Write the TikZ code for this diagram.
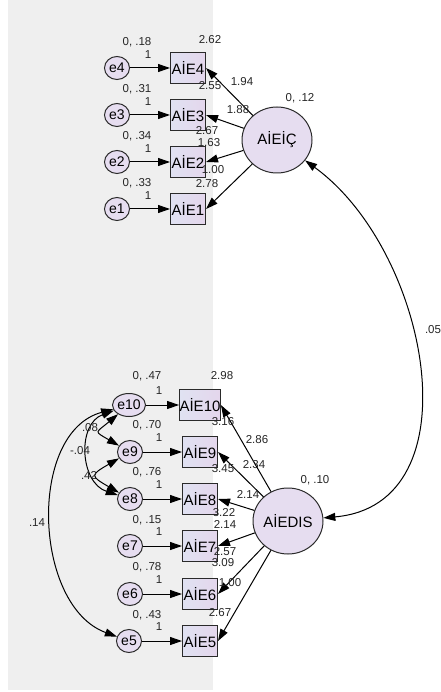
\documentclass[tikz,border=0pt]{standalone}
\usepackage{fontspec}
\setmainfont{Liberation Sans}
\usetikzlibrary{arrows.meta,shapes.geometric}
\definecolor{bgg}{HTML}{EFEFEF}
\definecolor{lav}{HTML}{E6DDF0}
\definecolor{boxl}{HTML}{E0E2F2}
\definecolor{boxr}{HTML}{E4D6EC}
\definecolor{edge}{HTML}{2A2A2A}
\tikzset{
  err/.style={ellipse, draw=edge, line width=1pt, fill=lav, minimum width=25pt, minimum height=23pt, inner sep=0pt, font=\fontsize{14}{15}\selectfont},
  obs/.style={rectangle, draw=edge, line width=1pt, left color=boxl, right color=boxr, minimum width=35pt, minimum height=31pt, inner sep=0pt, font=\fontsize{15}{16}\selectfont},
  lat/.style={ellipse, draw=edge, line width=1pt, fill=lav, minimum width=70pt, minimum height=66pt, inner sep=0pt, font=\fontsize{15}{16}\selectfont},
  lab/.style={font=\fontsize{11.5}{12}\selectfont, text=black!85, inner sep=0pt},
  arr/.style={-{Triangle[length=12pt,width=8pt]}, line width=1pt, draw=black},
  darr/.style={{Triangle[length=12pt,width=8pt]}-{Triangle[length=12pt,width=8pt]}, line width=1pt, draw=black}
}
\begin{document}
\begin{tikzpicture}[x=1pt,y=1pt]
\useasboundingbox (0,0) rectangle (440,-692);
\fill[white] (0,0) rectangle (440,-692);
\fill[bgg] (8,0) rectangle (213,-690);

% top group
\node[err] (e4) at (117,-68) {e4};
\node[err] (e3) at (117,-115) {e3};
\node[err] (e2) at (117,-162) {e2};
\node[err] (e1) at (117,-209) {e1};
\node[obs] (A4) at (188,-68) {AİE4};
\node[obs] (A3) at (188,-115) {AİE3};
\node[obs] (A2) at (188,-162) {AİE2};
\node[obs] (A1) at (188,-209) {AİE1};
\node[lat] (IC) at (277,-140) {AİEİÇ};

% bottom group
\node[err] (e10) at (129,-405) {e10};
\node[err] (e9) at (130,-452) {e9};
\node[err] (e8) at (130,-499) {e8};
\node[err] (e7) at (130,-546) {e7};
\node[err] (e6) at (130,-594) {e6};
\node[err] (e5) at (129,-641) {e5};
\node[obs] (A10) at (200,-405) {AİE10};
\node[obs] (A9) at (200,-452) {AİE9};
\node[obs] (A8) at (200,-499) {AİE8};
\node[obs] (A7) at (200,-546) {AİE7};
\node[obs] (A6) at (200,-594) {AİE6};
\node[obs] (A5) at (200,-641) {AİE5};
\node[lat] (DIS) at (288,-521) {AİEDIS};

% error arrows
\foreach \a/\b in {e4/A4,e3/A3,e2/A2,e1/A1,e10/A10,e9/A9,e8/A8,e7/A7,e6/A6,e5/A5}
  \draw[arr] (\a) -- (\b);

% loadings
\foreach \b in {A4,A3,A2,A1}
  \draw[arr] (IC) -- (\b.east);
\foreach \b in {A10,A9,A8,A7,A6,A5}
  \draw[arr] (DIS) -- (\b.east);

% covariances
\draw[darr] (IC) to[out=-36, in=5, looseness=1.1] (DIS);
\draw[darr] (e10) to[out=195, in=160, looseness=1.0] (e5);
\draw[darr] (e10) to[out=220, in=150, looseness=2.4] (e9);
\draw[darr] (e10) to[out=200, in=162, looseness=1.2] (e8);
\draw[darr] (e9) to[out=210, in=150, looseness=2.5] (e8);

% labels top
\node[lab] (v4) at (137,-42) {0, .18};
\node[lab] (v3) at (137,-89) {0, .31};
\node[lab] (v2) at (137,-136) {0, .34};
\node[lab] (v1) at (137,-183) {0, .33};
\node[lab] (o4) at (148,-55) {1};
\node[lab] (o3) at (148,-102) {1};
\node[lab] (o2) at (148,-149) {1};
\node[lab] (o1) at (148,-196) {1};
\node[lab] (i4) at (210,-40) {2.62};
\node[lab] (i3) at (210,-86) {2.55};
\node[lab] (i2) at (207,-131) {2.67};
\node[lab] (i1) at (207,-184) {2.78};
\node[lab] (w4) at (242,-82) {1.94};
\node[lab] (w3) at (238,-110) {1.88};
\node[lab] (w2) at (209,-143) {1.63};
\node[lab] (w1) at (213,-170) {1.00};
\node[lab] (vIC) at (300,-98) {0, .12};

% labels bottom
\node[lab] (v10) at (147,-376) {0, .47};
\node[lab] (v9) at (147,-425) {0, .70};
\node[lab] (v8) at (147,-472) {0, .76};
\node[lab] (v7) at (147,-520) {0, .15};
\node[lab] (v6) at (147,-567) {0, .78};
\node[lab] (v5) at (147,-615) {0, .43};
\node[lab] (o10) at (159,-391) {1};
\node[lab] (o9) at (159,-438) {1};
\node[lab] (o8) at (159,-485) {1};
\node[lab] (o7) at (159,-532) {1};
\node[lab] (o6) at (159,-580) {1};
\node[lab] (o5) at (159,-627) {1};
\node[lab] (i10) at (222,-376) {2.98};
\node[lab] (i9) at (223,-422) {3.16};
\node[lab] (i8) at (223,-469) {3.45};
\node[lab] (i7) at (224,-513) {3.22};
\node[lab] (i6) at (223,-563) {3.09};
\node[lab] (i5) at (220,-613) {2.67};
\node[lab] (w10) at (257,-440) {2.86};
\node[lab] (w9) at (254,-465) {2.34};
\node[lab] (w8) at (248,-494) {2.14};
\node[lab] (w7) at (225,-524) {2.14};
\node[lab] (w6) at (225,-552) {2.57};
\node[lab] (w5) at (230,-583) {1.00};
\node[lab] (vDIS) at (315,-480) {0, .10};
\node[lab] (c1) at (433,-330) {.05};
\node[lab] (c2) at (37,-523) {.14};
\node[lab] (c3) at (90,-428) {.08};
\node[lab] (c4) at (80,-451) {-.04};
\node[lab] (c5) at (89,-475) {.42};
\end{tikzpicture}
\end{document}
